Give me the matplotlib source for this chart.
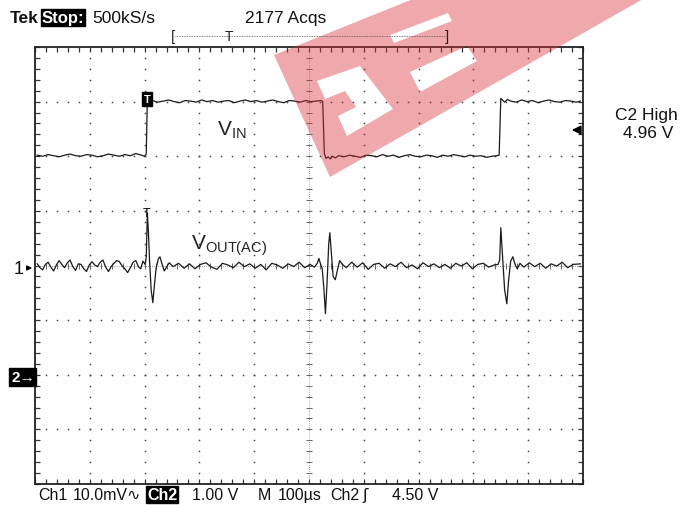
import numpy as np
import matplotlib
matplotlib.use("Agg")
from matplotlib import pyplot as plt
from matplotlib.path import Path
from matplotlib.patches import PathPatch

plt.rcParams['font.family'] = ['Liberation Sans', 'DejaVu Sans']
plt.rcParams['mathtext.fontset'] = 'custom'
plt.rcParams['mathtext.rm'] = 'Liberation Sans'

# scope settings
US_PER_DIV = 100.0      # M 100us
CH1_MV_PER_DIV = 10.0   # Ch1 10.0mV AC
CH2_V_PER_DIV = 1.00    # Ch2 1.00 V
CH2_GROUND_DIV = -2.0   # "2->" marker

# Ch2: V_IN (time in us, volts)
vin_t = [4, 14, 24, 34, 44, 54, 64, 74, 84, 94, 104, 114, 124, 134, 144, 154, 164, 174, 184, 194,
         200, 203, 205, 208,
         214, 224, 234, 244, 254, 264, 274, 284, 294, 304, 314, 324, 334, 344, 354, 364, 374, 384,
         394, 404, 414, 424, 434, 444, 454, 464, 474, 484, 494, 504, 514, 522,
         525, 528, 531, 535, 539, 543, 548,
         554, 564, 574, 584, 594, 604, 614, 624, 634, 644, 654, 664, 674, 684, 694, 704, 714, 724,
         734, 744, 754, 764, 774, 784, 794, 804, 814, 824, 834, 843,
         847, 850, 853, 857, 862,
         868, 878, 888, 898, 908, 918, 928, 938, 948, 958, 968, 978, 988, 995]
vin_v = [4.02, 4.00, 4.03, 4.01, 3.99, 4.02, 4.04, 4.01, 4.00, 4.03, 4.02, 3.99, 4.01, 4.04, 4.02, 4.00, 4.03, 4.01, 4.05, 4.02,
         4.00, 4.04, 5.03, 5.00,
         5.02, 4.99, 5.01, 5.03, 5.00, 4.98, 5.02, 5.01, 4.99, 5.03, 5.00, 5.02, 4.99, 5.01, 5.02, 4.98, 5.01, 5.03,
         5.00, 5.02, 4.99, 5.01, 5.03, 5.00, 4.98, 5.02, 5.01, 4.99, 5.02, 5.00, 5.01, 5.02,
         5.00, 4.05, 3.96, 3.99, 3.95, 4.00, 3.97,
         4.01, 3.99, 4.02, 4.00, 3.98, 4.02, 4.01, 3.99, 4.03, 4.00, 4.02, 3.98, 4.01, 4.03, 4.00, 3.99, 4.02, 4.01,
         3.98, 4.02, 4.00, 4.03, 4.01, 3.99, 4.02, 4.00, 4.01, 3.98, 4.00, 4.01,
         4.02, 5.06, 5.03, 4.99, 5.04,
         5.01, 4.99, 5.03, 5.00, 5.02, 4.98, 5.01, 5.03, 5.00, 4.99, 5.02, 5.01, 4.99, 5.01]

# Ch1: V_OUT(AC) (time in us, millivolts)
vout_t = [4, 9, 14, 19, 24, 29, 34, 39, 44, 49, 54, 59, 64, 69, 74, 79, 84, 89, 94, 99,
          104, 109, 114, 119, 124, 129, 134, 139, 144, 149, 154, 159, 164, 169, 174, 179, 184, 189, 193,
          197, 201, 203, 205, 207, 209, 212, 215, 218, 221, 225, 228, 232, 236, 240, 245,
          252, 262, 272, 282, 292, 302, 312, 322, 332, 342, 352, 362, 372, 382, 392, 402, 412, 422,
          432, 442, 452, 462, 472, 482, 492, 502, 510,
          515, 518, 521, 524, 527, 530, 533, 536, 538, 541, 544, 548, 552, 556, 560,
          568, 578, 588, 598, 608, 618, 628, 638, 648, 658, 668, 678, 688, 698, 708, 718, 728, 738,
          748, 758, 768, 778, 788, 798, 808, 818, 828, 838,
          845, 848, 850, 853, 857, 861, 864, 868, 872, 876, 880, 885,
          892, 902, 912, 922, 932, 942, 952, 962, 972, 982, 995]
vout_mv = [0.3, -0.4, -0.8, 0.2, 0.6, -0.3, -1.0, 0.1, 0.9, 0.2, -0.4, 0.5, 1.0, -0.2, -0.9, 0.3, 0.2, -0.6, -1.1, 0.1,
           0.7, 0.1, -0.2, 0.6, 1.0, -0.3, -1.1, -0.2, 0.4, 0.9, 0.7, -0.1, -0.6, -1.3, -0.4, 0.6, 0.9, -0.3, -0.6,
           0.8, 0.2, 1.5, 9.6, 6.0, 1.0, -4.5, -6.8, -3.5, -0.5, 1.2, 1.6, 0.2, -1.0, -0.3, 0.5,
           -0.2, 0.4, -0.5, 0.3, -0.6, 0.2, 0.5, -0.3, -0.7, 0.4, 0.1, -0.4, 0.6, -0.2, 0.3, -0.5, 0.2, -0.8,
           0.4, 0.1, -0.5, 0.3, -0.2, 0.6, -0.4, 0.2, -0.3,
           0.4, 1.3, 0.3, -0.5, -4.0, -8.8, -3.0, 4.0, 6.0, 2.0, -2.0, -2.6, -0.8, 0.9, 0.3,
           -0.4, 0.6, -0.3, 0.5, -0.7, 0.2, 0.4, -0.5, 0.3, -0.2, 0.6, -0.4, 0.1, -0.6, 0.5, -0.2, 0.3, -0.4,
           0.2, -0.5, 0.4, -0.1, 0.5, -0.6, 0.2, 0.4, -0.3, 0.1,
           0.2, 1.0, 6.9, 2.0, -4.5, -7.0, -3.0, 0.8, 1.6, 0.2, -0.6, 0.4,
           -0.3, 0.5, -0.2, 0.4, -0.5, 0.3, -0.1, 0.6, -0.4, 0.2, 0.3]

# watermark outline and cut-outs (figure pixels)
wm_outer = [(274, 56), (413, 0), (643, 0), (520, 70), (330, 178)]
wm_holes = [[(317, 82), (360, 67), (393, 110), (347, 137), (338, 117), (356, 108), (345, 92), (325, 100)],
            [(410, 73), (467, 47), (477, 62), (420, 93)],
            [(390, 36), (448, 14), (452, 22), (394, 44)]]

TRACE = '#1a1a1a'

fig = plt.figure(figsize=(6.83, 5.06), dpi=100)
ax = fig.add_axes([35 / 683, 21 / 506, 548 / 683, 437 / 506])
ax.set_xlim(0, 10)
ax.set_ylim(-4, 4)

# graticule ticks on the frame
ax.set_xticks(np.arange(0, 10.01, 0.2))
ax.set_yticks(np.arange(-4, 4.01, 0.2))
ax.tick_params(direction='in', length=3.5, width=0.9, top=True, right=True,
               labelbottom=False, labelleft=False, color='#333333')
for s in ax.spines.values():
    s.set_linewidth(1.3)
    s.set_color('#222222')

# dotted graticule
fine = np.arange(0.2, 10, 0.2)
fine_y = np.arange(-3.8, 4, 0.2)
for gx in range(1, 10):
    if gx == 5:
        continue
    ax.plot(np.full_like(fine_y, gx), fine_y, ls='none', marker='s', ms=1.1, mew=0, color='#444444')
for gy in range(-3, 4):
    if gy == 0:
        continue
    ax.plot(fine, np.full_like(fine, gy), ls='none', marker='s', ms=1.1, mew=0, color='#444444')
# centre cross with small ticks
ax.plot([5, 5], [-4, 4], ls=(0, (1, 1.5)), lw=0.6, color='#888888')
ax.plot([0, 10], [0, 0], ls=(0, (1, 1.5)), lw=0.6, color='#888888')
ax.plot(np.full_like(fine_y, 5), fine_y, ls='none', marker='_', ms=4, mew=0.7, color='#666666')
ax.plot(fine, np.zeros_like(fine), ls='none', marker='|', ms=4, mew=0.7, color='#666666')

# traces
vin_x = np.array(vin_t) / US_PER_DIV
vin_y = np.array(vin_v) / CH2_V_PER_DIV + CH2_GROUND_DIV
vout_x = np.array(vout_t) / US_PER_DIV
vout_y = np.array(vout_mv) / CH1_MV_PER_DIV
ax.plot(vin_x, vin_y, color=TRACE, lw=0.9)
ax.plot(vout_x, vout_y, color=TRACE, lw=0.9)

# trace labels
ax.text(3.32, 2.5, r'$\mathregular{V_{IN}}$', fontsize=15, color='#222222', va='center')
ax.text(2.84, 0.38, r'$\mathregular{V_{OUT(AC)}}$', fontsize=15, color='#222222', va='center')

# trigger markers
ax.text(2.04, 3.05, 'T', fontsize=8, fontweight='bold', color='white', ha='center', va='center',
        bbox=dict(boxstyle='square,pad=0.15', fc='black', ec='black'))
ax.text(2.04, 0.97, 'T', fontsize=9, color='black', ha='center', va='center')

ov = fig.add_axes([0, 0, 1, 1], facecolor='none')
ov.set_xlim(0, 683)
ov.set_ylim(506, 0)
ov.axis('off')

# header
ov.text(10, 23, 'Tek', fontsize=12.5, fontweight='bold', color='#111111')
ov.text(42, 23, 'Stop:', fontsize=12, fontweight='bold', color='white',
        bbox=dict(boxstyle='square,pad=0.05', fc='black', ec='black'))
ov.text(92, 23, '500kS/s', fontsize=12.5, color='#111111')
ov.text(245, 23, '2177 Acqs', fontsize=12.5, color='#111111')
ov.plot([175, 447], [37, 37], ls=(0, (1, 1)), lw=0.6, color='#555555')
ov.text(173, 37, '[', fontsize=11, color='#222222', va='center', ha='center')
ov.text(447, 37, ']', fontsize=11, color='#222222', va='center', ha='center')
ov.text(229, 37, 'T', fontsize=10, color='#222222', va='center', ha='center')

# footer
foot = ['Liberation Sans', 'DejaVu Sans']
fs = 11.5
ov.text(38, 500, 'Ch1', fontsize=fs, family=foot, color='#111111')
ov.text(73, 500, '10.0mV\u223f', fontsize=fs, family=foot, color='#111111')
ov.text(147, 500, 'Ch2', fontsize=fs, family=foot, fontweight='bold', color='white',
        bbox=dict(boxstyle='square,pad=0.05', fc='black', ec='black'))
ov.text(192, 500, '1.00 V', fontsize=fs, family=foot, color='#111111')
ov.text(258, 500, 'M', fontsize=fs, family=foot, color='#111111')
ov.text(278, 500, '100\u00b5s', fontsize=fs, family=foot, color='#111111')
ov.text(330, 500, 'Ch2', fontsize=fs, family=foot, color='#111111')
ov.text(362, 500, '\u0283', fontsize=fs, family=['DejaVu Sans'], color='#111111')
ov.text(392, 500, '4.50 V', fontsize=fs, family=foot, color='#111111')

# right readout
ov.text(646, 120, 'C2 High', fontsize=12.5, color='#111111', ha='center')
ov.text(648, 138, '4.96 V', fontsize=12.5, color='#111111', ha='center')
ov.annotate('', xy=(569, 131), xytext=(583, 131),
            arrowprops=dict(arrowstyle='-|>', color='black', lw=1.2, mutation_scale=13))

# channel markers
ov.text(14, 270, '1', fontsize=13, color='#111111', va='center')
ov.annotate('', xy=(35, 269), xytext=(24, 269),
            arrowprops=dict(arrowstyle='-|>', color='black', lw=1.0, mutation_scale=7))
ov.text(11, 378, '2\u2192', fontsize=11, fontweight='bold', color='white', va='center',
        bbox=dict(boxstyle='square,pad=0.1', fc='black', ec='black'))

# watermark: pink plate with cut-outs (holes drawn with reverse winding)
verts = list(wm_outer) + [wm_outer[0]]
codes = [Path.MOVETO] + [Path.LINETO] * (len(wm_outer) - 1) + [Path.CLOSEPOLY]
for hole in wm_holes:
    h = hole[::-1]
    verts += list(h) + [h[0]]
    codes += [Path.MOVETO] + [Path.LINETO] * (len(h) - 1) + [Path.CLOSEPOLY]
ov.add_patch(PathPatch(Path(verts, codes), fc='#d9303a', ec='none', alpha=0.42))

fig.savefig('out.png', dpi=100)
